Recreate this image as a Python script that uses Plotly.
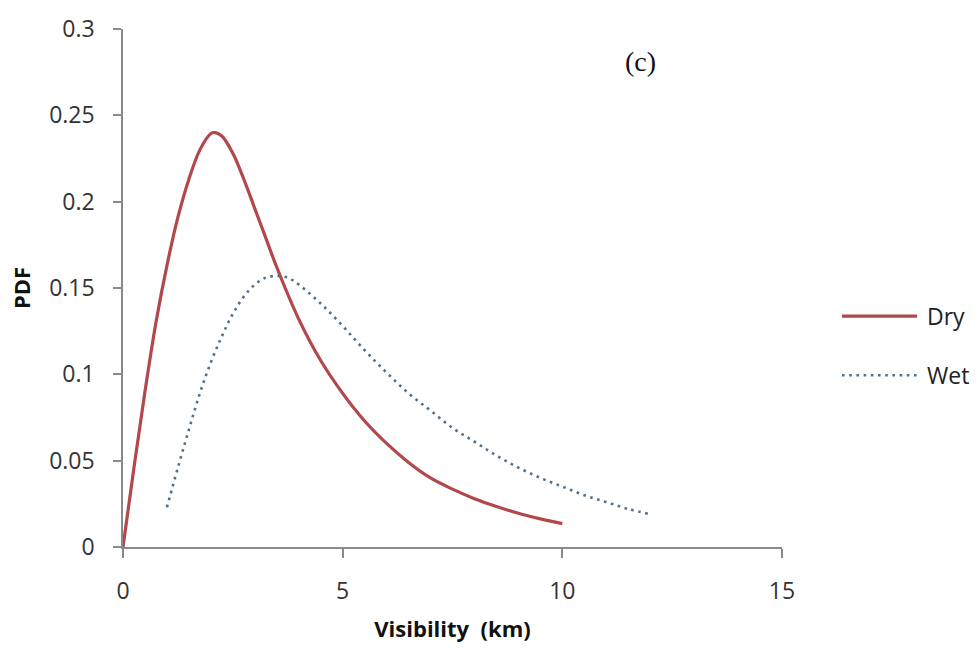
import plotly.graph_objects as go

# Dry series (visibility km, PDF)
dry_x = [0, 0.25, 0.5, 0.75, 1.0, 1.25, 1.5, 1.75, 2.0, 2.1, 2.25, 2.5, 2.75, 3.0, 3.25, 3.5,
         4.0, 4.5, 5.0, 5.5, 6.0, 6.5, 7.0, 7.5, 8.0, 8.5, 9.0, 9.5, 10.0]
dry_y = [0, 0.046, 0.09, 0.130, 0.163, 0.191, 0.213, 0.230, 0.2395, 0.240, 0.238, 0.228, 0.213, 0.196, 0.179, 0.162,
         0.132, 0.108, 0.089, 0.073, 0.060, 0.049, 0.040, 0.0335, 0.028, 0.0235, 0.0195, 0.0163, 0.0135]

# Wet series
wet_x = [1.0, 1.25, 1.5, 1.75, 2.0, 2.25, 2.5, 2.75, 3.0, 3.25, 3.5, 3.75, 4.0, 4.5, 5.0, 5.5, 6.0,
         6.5, 7.0, 7.5, 8.0, 8.5, 9.0, 9.5, 10.0, 10.5, 11.0, 11.5, 12.0]
wet_y = [0.023, 0.046, 0.068, 0.089, 0.107, 0.122, 0.135, 0.145, 0.152, 0.156, 0.157, 0.156, 0.152, 0.141, 0.128, 0.114, 0.101,
         0.089, 0.079, 0.069, 0.061, 0.053, 0.046, 0.040, 0.035, 0.030, 0.026, 0.022, 0.019]

series_names = ["Dry", "Wet"]
x_ticks = [0, 5, 10, 15]
y_ticks = [0, 0.05, 0.1, 0.15, 0.2, 0.25, 0.3]
y_tick_text = ["0", "0.05", "0.1", "0.15", "0.2", "0.25", "0.3"]

DRY_COLOR = "#B2474C"
WET_COLOR = "#52708A"
AXIS_COLOR = "#8A8A8A"
FONT = "Open Sans"
WET_DASH = "2.6px,4.6px"

fig = go.Figure()
fig.add_trace(go.Scatter(x=dry_x, y=dry_y, mode="lines", name=series_names[0],
                         line=dict(color=DRY_COLOR, width=3.2, shape="spline", smoothing=1.0),
                         cliponaxis=False, showlegend=False))
fig.add_trace(go.Scatter(x=wet_x, y=wet_y, mode="lines", name=series_names[1],
                         line=dict(color=WET_COLOR, width=2.6, dash=WET_DASH, shape="spline", smoothing=1.0),
                         cliponaxis=False, showlegend=False))

L, R, T, B = 123, 782, 22, 547
fig.update_layout(
    width=980, height=662,
    margin=dict(l=L, r=980 - R, t=T, b=662 - B),
    paper_bgcolor="white", plot_bgcolor="white",
    font=dict(family=FONT, size=22, color="#333333"),
    xaxis=dict(range=[0, 15], tickvals=x_ticks, ticktext=[str(v) for v in x_ticks],
               showline=True, linecolor=AXIS_COLOR, linewidth=1.5, showgrid=False, zeroline=False,
               ticks="outside", ticklen=9, tickwidth=1.5, tickcolor=AXIS_COLOR,
               ticklabelstandoff=14,
               tickfont=dict(family=FONT, size=23, color="#333333"),
               title=dict(text="<b>Visibility  (km)</b>", font=dict(family=FONT, size=22, color="#111111"),
                          standoff=16)),
    yaxis=dict(range=[0, 0.3], tickvals=y_ticks, ticktext=y_tick_text,
               showline=True, linecolor=AXIS_COLOR, linewidth=1.5, showgrid=False, zeroline=False,
               ticks="outside", ticklen=8, tickwidth=1.5, tickcolor=AXIS_COLOR,
               ticklabelstandoff=14,
               tickfont=dict(family=FONT, size=23, color="#333333"),
               title=dict(text="<b>PDF</b>", font=dict(family=FONT, size=22, color="#111111"),
                          standoff=12)),
)

pw, ph = R - L, B - T

# (c) panel label
fig.add_annotation(xref="paper", yref="paper", x=(640 - L) / pw, y=(B - 55) / ph,
                   text="(c)", showarrow=False, xanchor="center", yanchor="middle",
                   font=dict(family="Liberation Serif", size=28, color="#111111"))

# Manual legend (line samples + labels), placed in paper coordinates
legend_rows = [(313, DRY_COLOR, "solid", 3.2), (373, WET_COLOR, WET_DASH, 2.6)]
for (py, col, dash, w), name in zip(legend_rows, series_names):
    fig.add_shape(type="line", xref="paper", yref="paper",
                  x0=(842 - L) / pw, x1=(917 - L) / pw,
                  y0=(B - py) / ph, y1=(B - py) / ph,
                  line=dict(color=col, width=w, dash=dash))
    fig.add_annotation(xref="paper", yref="paper", x=(925 - L) / pw, y=(B - py) / ph,
                       xanchor="left", yanchor="middle", text=name, showarrow=False,
                       font=dict(family=FONT, size=23, color="#222222"))

fig.write_html("out.html")
